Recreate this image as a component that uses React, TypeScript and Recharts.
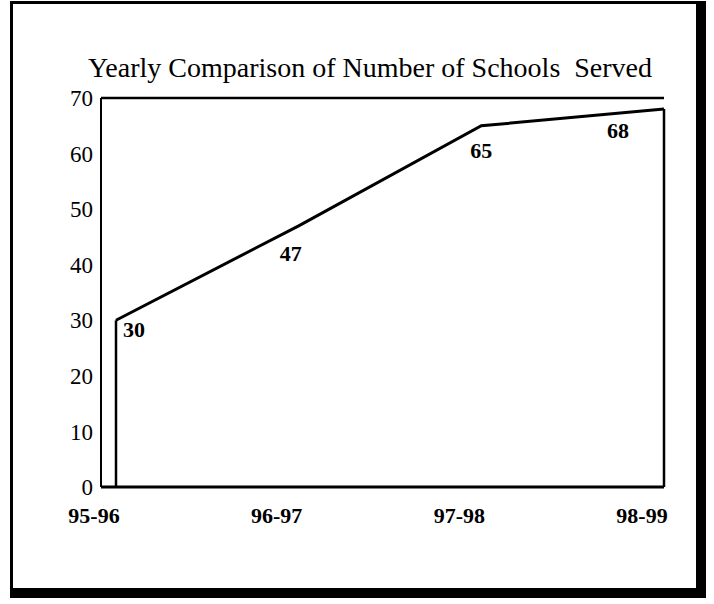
import { AreaChart, Area, XAxis, YAxis, ReferenceLine, LabelList } from 'recharts'

const years = ['95-96', '96-97', '97-98', '98-99']
const schools = [30, 47, 65, 68]
const yTicks = [0, 10, 20, 30, 40, 50, 60, 70]

const data = years.map((year, i) => ({ year, schools: schools[i] }))

const FONT = '"Liberation Serif", "DejaVu Serif", serif'

// where each value label sits relative to its point
const labelShift = [
  [18, 9],
  [-8, 28],
  [0, 25],
  [-46, 21]
]

const renderLabel = (props: any) => {
  const { x, y, value, index } = props
  const [dx, dy] = labelShift[index] || [0, 0]
  return (
    <text
      x={x + dx}
      y={y + dy}
      textAnchor="middle"
      dominantBaseline="central"
      fontFamily={FONT}
      fontWeight="bold"
      fontSize={22}
      fill="#000"
    >
      {value}
    </text>
  )
}

export default function App() {
  return (
    <div style={{ position: 'absolute', left: 0, top: 0, width: 714, height: 604, background: '#fff' }}>
      <div
        style={{
          position: 'absolute',
          left: 10,
          top: 1,
          width: 696,
          height: 597,
          boxSizing: 'border-box',
          borderStyle: 'solid',
          borderColor: '#000',
          borderWidth: '3px 10px 10px 3px'
        }}
      />
      <div
        style={{
          position: 'absolute',
          left: 0,
          width: 740,
          top: 50,
          textAlign: 'center',
          fontFamily: FONT,
          fontSize: 28,
          lineHeight: '36px',
          color: '#000',
          whiteSpace: 'pre'
        }}
      >
        {'Yearly Comparison of Number of Schools  Served'}
      </div>
      <div style={{ position: 'absolute', left: 0, top: 0 }}>
        <AreaChart width={714} height={604} data={data} margin={{ top: 98, right: 50, bottom: 77, left: 61 }}>
          <XAxis
            dataKey="year"
            padding={{ left: 15, right: 0 }}
            axisLine={{ stroke: '#000', strokeWidth: 3 }}
            tickLine={false}
            tickMargin={14}
            tick={{ fill: '#000', fontFamily: FONT, fontSize: 22, fontWeight: 'bold', dx: -22 }}
            height={40}
          />
          <YAxis
            type="number"
            domain={[0, 70]}
            ticks={yTicks}
            width={40}
            axisLine={{ stroke: '#000', strokeWidth: 2 }}
            tickLine={false}
            tick={{ fill: '#000', fontFamily: FONT, fontSize: 23 }}
          />
          <ReferenceLine y={70} stroke="#000" strokeWidth={2.5} />
          <ReferenceLine
            segment={[{ x: years[0], y: 0 }, { x: years[0], y: schools[0] }]}
            stroke="#000"
            strokeWidth={2.5}
          />
          <ReferenceLine
            segment={[{ x: years[3], y: 0 }, { x: years[3], y: schools[3] }]}
            stroke="#000"
            strokeWidth={2.5}
          />
          <Area
            type="linear"
            dataKey="schools"
            stroke="#000"
            strokeWidth={3}
            fill="#fff"
            fillOpacity={0}
            dot={false}
            activeDot={false}
            isAnimationActive={false}
          >
            <LabelList dataKey="schools" content={renderLabel} />
          </Area>
        </AreaChart>
      </div>
    </div>
  )
}
